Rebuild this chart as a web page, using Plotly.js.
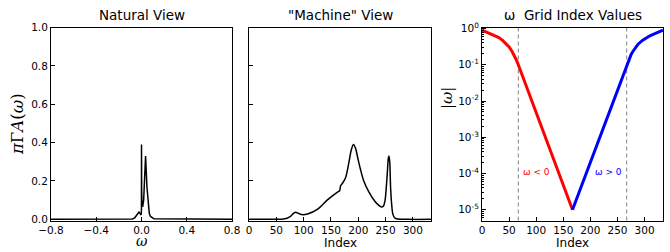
<!DOCTYPE html>
<html>
<head>
<meta charset="utf-8">
<script src="https://cdn.plot.ly/plotly-3.0.1.min.js"></script>
<style>html,body{margin:0;padding:0;background:#fff;}#chart{width:670px;height:252px;}</style>
</head>
<body>
<div id="chart"></div>
<script>
// ---- Data ----
// Natural view: spectral function vs omega
const naturalOmega = [-0.8, -0.11, -0.08, -0.06, -0.045, -0.032, -0.022, -0.012, -0.006, -0.002, -0.0005, -0.0001, -0.00002, 0.0001, 0.0005, 0.0015, 0.004, 0.01, 0.019, 0.0275, 0.036, 0.048, 0.06, 0.069, 0.08, 0.091, 0.11, 0.8];
const naturalA     = [0, 0, 0.002, 0.008, 0.018, 0.032, 0.038, 0.03, 0.025, 0.028, 0.052, 0.10, 0.15, 0.39, 0.30, 0.145, 0.092, 0.065, 0.10, 0.24, 0.33, 0.17, 0.07, 0.03, 0.015, 0.01, 0.003, 0];

// Machine view: spectral function vs grid index
const machineIndex = [0, 40, 60, 68, 72, 76, 80, 85, 90, 96, 107, 125, 143, 155, 162, 166, 167.5, 172, 177, 183, 187, 191, 195, 199, 204, 210, 219, 231, 238, 242, 246, 249, 251, 253, 255, 256, 257.5, 259, 261, 263, 266, 270, 290, 333];
const machineA     = [0, 0, 0.001, 0.004, 0.009, 0.016, 0.028, 0.037, 0.032, 0.025, 0.028, 0.052, 0.10, 0.128, 0.142, 0.15, 0.175, 0.192, 0.22, 0.30, 0.36, 0.39, 0.37, 0.32, 0.26, 0.20, 0.145, 0.092, 0.072, 0.065, 0.07, 0.10, 0.16, 0.24, 0.32, 0.33, 0.30, 0.17, 0.08, 0.03, 0.01, 0.003, 0, 0];

// Grid: |omega| vs index, negative and positive branches
const negIndex    = [0, 5, 15, 25, 31, 38, 46, 50, 55, 59, 63, 67, 167];
const negAbsOmega = [0.9, 0.83, 0.72, 0.62, 0.56, 0.47, 0.37, 0.31, 0.24, 0.19, 0.14, 0.1, 1e-5];
const posIndex    = [167, 267, 271, 275, 279, 284, 288, 296, 303, 309, 319, 329, 334];
const posAbsOmega = [1e-5, 0.1, 0.14, 0.19, 0.24, 0.31, 0.37, 0.47, 0.56, 0.62, 0.72, 0.83, 0.9];
const boundaryIndex = [67, 267];

const titles = ['Natural View', '"Machine" View', 'ω  Grid Index Values'];
const logTickVals = [1e-5, 1e-4, 1e-3, 1e-2, 1e-1, 1];
const logTickText = ['10<sup>-5</sup>', '10<sup>-4</sup>', '10<sup>-3</sup>', '10<sup>-2</sup>', '10<sup>-1</sup>', '10<sup>0</sup>'];

// ---- Layout geometry (pixels) ----
const W = 670, H = 252;
const px = v => v / W, py = v => 1 - v / H;
const plotTop = 27.5, plotBottom = 220.5;
const P1 = [51, 232], P2 = [249, 431], P3 = [482, 663];

const font = 'DejaVu Sans, sans-serif';
const tickFont = {family: font, size: 10.5, color: '#000'};

const baseAxis = {
  showline: true, linecolor: '#000', linewidth: 1, mirror: true,
  showgrid: false, zeroline: false, ticks: 'inside', ticklen: 4, tickwidth: 1,
  tickcolor: '#000', tickfont: tickFont, fixedrange: true
};

const traces = [
  {x: naturalOmega, y: naturalA, xaxis: 'x', yaxis: 'y', mode: 'lines',
   line: {color: '#000', width: 1.5}, hoverinfo: 'skip'},
  {x: machineIndex, y: machineA, xaxis: 'x2', yaxis: 'y2', mode: 'lines',
   line: {color: '#000', width: 1.5, shape: 'spline', smoothing: 0.8}, hoverinfo: 'skip'},
  {x: negIndex, y: negAbsOmega, xaxis: 'x3', yaxis: 'y3', mode: 'lines',
   line: {color: '#ff0000', width: 3}, hoverinfo: 'skip'},
  {x: posIndex, y: posAbsOmega, xaxis: 'x3', yaxis: 'y3', mode: 'lines',
   line: {color: '#0000ff', width: 3}, hoverinfo: 'skip'}
];

const shapes = boundaryIndex.map(b => ({
  type: 'line', xref: 'x3', yref: 'y3 domain', x0: b, x1: b, y0: 0, y1: 1,
  line: {color: '#808080', width: 1, dash: '4px,3px'}, layer: 'below'
}));

const ann = (text, x, y, size, extra) => Object.assign({
  text, x, y, xref: 'paper', yref: 'paper', showarrow: false,
  xanchor: 'center', yanchor: 'middle', font: {family: font, size, color: '#000'}
}, extra || {});

const annotations = [
  ann(titles[0], px((P1[0] + P1[1]) / 2), py(15), 13.5),
  ann(titles[1], px((P2[0] + P2[1]) / 2), py(15), 13.5),
  ann(titles[2], px((P3[0] + P3[1]) / 2), py(15), 13.5),
  ann('<i>π</i>Γ<i>A</i>(<i>ω</i>)', px(17), py(124), 16, {textangle: -90, font: {family: 'DejaVu Serif, serif', size: 16.5, color: '#000'}}),
  ann('<i>ω</i>', px((P1[0] + P1[1]) / 2), py(241), 14, {font: {family: 'DejaVu Serif, serif', size: 14, color: '#000'}}),
  ann('Index', px((P2[0] + P2[1]) / 2), py(243), 12),
  ann('Index', px((P3[0] + P3[1]) / 2), py(243), 12),
  ann('|<i>ω</i>|', px(447), py(98), 15, {textangle: -90, font: {family: 'DejaVu Serif, serif', size: 15, color: '#000'}}),
  {text: 'ω < 0', x: 101, y: -3.97, xref: 'x3', yref: 'y3', showarrow: false,
   font: {family: font, size: 9, color: '#ff0000'}},
  {text: 'ω > 0', x: 233, y: -3.97, xref: 'x3', yref: 'y3', showarrow: false,
   font: {family: font, size: 9, color: '#0000ff'}}
];

const yRange = [-0.006, 1.0];
const layout = {
  width: W, height: H, margin: {l: 0, r: 0, t: 0, b: 0},
  paper_bgcolor: '#fff', plot_bgcolor: '#fff', showlegend: false,
  xaxis: Object.assign({}, baseAxis, {domain: [px(P1[0]), px(P1[1])], range: [-0.8, 0.8],
    tickvals: [-0.8, -0.4, 0, 0.4, 0.8], tickformat: '.1f', anchor: 'y'}),
  yaxis: Object.assign({}, baseAxis, {domain: [py(plotBottom), py(plotTop)], range: yRange,
    tickvals: [0, 0.2, 0.4, 0.6, 0.8, 1.0], tickformat: '.1f', anchor: 'x'}),
  xaxis2: Object.assign({}, baseAxis, {domain: [px(P2[0]), px(P2[1])], range: [0, 333],
    tickvals: [0, 50, 100, 150, 200, 250, 300], anchor: 'y2'}),
  yaxis2: Object.assign({}, baseAxis, {domain: [py(plotBottom), py(plotTop)], range: yRange,
    tickvals: [0, 0.2, 0.4, 0.6, 0.8, 1.0], showticklabels: false, anchor: 'x2'}),
  xaxis3: Object.assign({}, baseAxis, {domain: [px(P3[0]), px(P3[1])], range: [0, 334],
    tickvals: [0, 50, 100, 150, 200, 250, 300], anchor: 'y3'}),
  yaxis3: Object.assign({}, baseAxis, {domain: [py(plotBottom), py(plotTop)], type: 'log', range: [-5.296, 0.028],
    tickvals: logTickVals, ticktext: logTickText, anchor: 'x3',
    minor: {ticks: 'inside', ticklen: 2, tickcolor: '#000', tickwidth: 1, dtick: 'D1', showgrid: false}}),
  shapes, annotations
};

Plotly.newPlot('chart', traces, layout, {staticPlot: true, displayModeBar: false});
</script>
</body>
</html>
